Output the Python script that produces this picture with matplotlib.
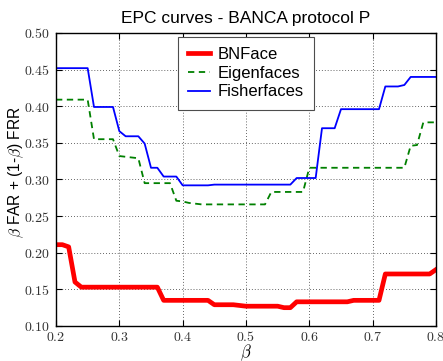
import matplotlib
matplotlib.use('Agg')
import matplotlib.pyplot as plt
import numpy as np
from matplotlib.ticker import FuncFormatter, MultipleLocator

plt.rcParams['mathtext.fontset'] = 'cm'
plt.rcParams['font.family'] = ['Liberation Sans', 'DejaVu Sans']

# operating points, beta from 0.20 to 0.80 in steps of 0.01
beta = np.round(np.arange(0.20, 0.8001, 0.01), 2)

bnface = [0.211, 0.211, 0.208, 0.160, 0.153, 0.153, 0.153, 0.153, 0.153, 0.153,
          0.153, 0.153, 0.153, 0.153, 0.153, 0.153, 0.153, 0.135, 0.135, 0.135,
          0.135, 0.135, 0.135, 0.135, 0.135, 0.129, 0.129, 0.129, 0.129, 0.128,
          0.127, 0.127, 0.127, 0.127, 0.127, 0.127, 0.125, 0.125, 0.133, 0.133,
          0.133, 0.133, 0.133, 0.133, 0.133, 0.133, 0.133, 0.135, 0.135, 0.135,
          0.135, 0.135, 0.171, 0.171, 0.171, 0.171, 0.171, 0.171, 0.171, 0.171,
          0.177]

eigenfaces = [0.409, 0.409, 0.409, 0.409, 0.409, 0.409, 0.355, 0.355, 0.355, 0.355,
              0.332, 0.331, 0.330, 0.329, 0.295, 0.295, 0.295, 0.295, 0.295, 0.271,
              0.270, 0.268, 0.267, 0.266, 0.266, 0.266, 0.266, 0.266, 0.266, 0.266,
              0.266, 0.266, 0.266, 0.266, 0.283, 0.283, 0.283, 0.283, 0.283, 0.283,
              0.316, 0.316, 0.316, 0.316, 0.316, 0.316, 0.316, 0.316, 0.316, 0.316,
              0.316, 0.316, 0.316, 0.316, 0.316, 0.316, 0.346, 0.347, 0.378, 0.378,
              0.378]

fisherfaces = [0.452, 0.452, 0.452, 0.452, 0.452, 0.452, 0.399, 0.399, 0.399, 0.399,
               0.366, 0.359, 0.359, 0.359, 0.349, 0.316, 0.316, 0.304, 0.304, 0.304,
               0.292, 0.292, 0.292, 0.292, 0.292, 0.293, 0.293, 0.293, 0.293, 0.293,
               0.293, 0.293, 0.293, 0.293, 0.293, 0.293, 0.293, 0.293, 0.302, 0.302,
               0.302, 0.302, 0.370, 0.370, 0.370, 0.396, 0.396, 0.396, 0.396, 0.396,
               0.396, 0.396, 0.427, 0.427, 0.427, 0.429, 0.440, 0.440, 0.440, 0.440,
               0.440]

fig = plt.figure(figsize=(4.43, 3.61), dpi=100)
ax = fig.add_axes([0.1264, 0.097, 0.8578, 0.8116])

ax.plot(beta, bnface, color='red', lw=3.4, label='BNFace')
ax.plot(beta, eigenfaces, color='green', lw=1.3, ls=(0, (3.5, 2.5)), label='Eigenfaces')
ax.plot(beta, fisherfaces, color='blue', lw=1.3, label='Fisherfaces')

ax.set_xlim(0.2, 0.8)
ax.set_ylim(0.10, 0.50)
ax.xaxis.set_major_locator(MultipleLocator(0.1))
ax.yaxis.set_major_locator(MultipleLocator(0.05))
ax.xaxis.set_major_formatter(FuncFormatter(lambda v, _: '$%.1f$' % v))
ax.yaxis.set_major_formatter(FuncFormatter(lambda v, _: '$%.2f$' % v))
ax.tick_params(direction='in', top=True, right=True, length=4, width=0.8,
               labelsize=10, pad=4, labelcolor='0.2')
ax.tick_params(axis='x', pad=3)
ax.grid(True, color='black', ls=(0, (1, 2.5)), lw=0.6, alpha=0.8)
for s in ax.spines.values():
    s.set_linewidth(1.0)

ax.set_title('EPC curves - BANCA protocol P', fontsize=12.5, pad=7)
ax.set_xlabel(r'$\beta$', fontsize=12, labelpad=-1.5)
ax.set_ylabel(r'$\beta$ FAR + (1-$\beta$) FRR', fontsize=11.2)
ax.yaxis.set_label_coords(-0.078, 0.527)

leg = ax.legend(loc='upper center', bbox_to_anchor=(0.5, 0.987), fontsize=12,
                fancybox=False, framealpha=1, edgecolor='0.3', handlelength=1.35,
                handletextpad=0.45, borderpad=0.62, labelspacing=0.22,
                borderaxespad=0)
leg.get_frame().set_linewidth(0.8)

fig.savefig('out.png', dpi=100)
